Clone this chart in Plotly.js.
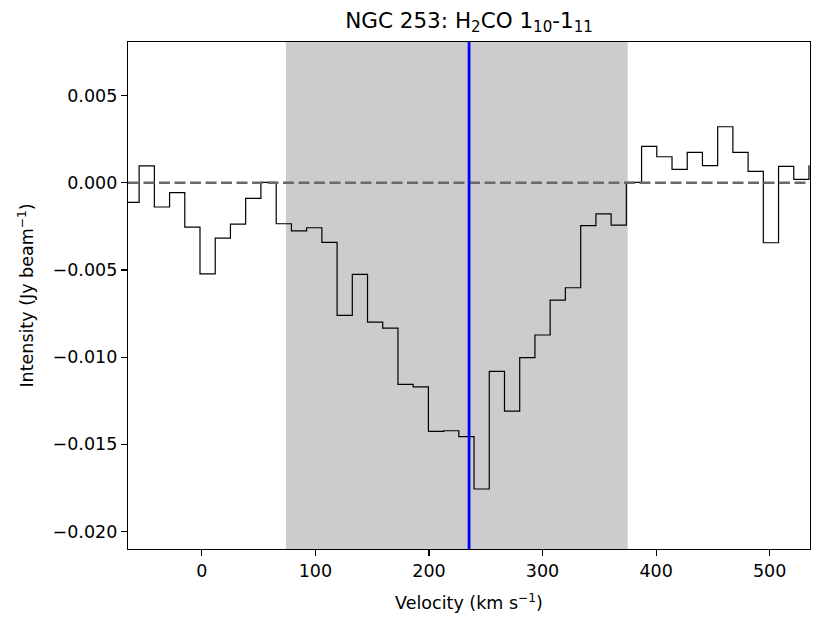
<!DOCTYPE html>
<html>
<head>
<meta charset="utf-8">
<script src="https://cdn.plot.ly/plotly-3.0.1.min.js"></script>
<style>html,body{margin:0;padding:0;background:#fff;}#chart{width:830px;height:628px;}</style>
</head>
<body>
<div id="chart"></div>
<script>
// Channel left edges (km/s)
const velocityEdges = [-68.6, -55.2, -41.8, -28.4, -15.0, -1.6, 11.8, 25.2, 38.6, 52.0,
  65.5, 78.9, 92.3, 105.7, 119.1, 132.5, 145.9, 159.3, 172.7, 186.1,
  199.5, 212.9, 226.3, 239.7, 253.1, 266.5, 279.9, 293.3, 306.7, 320.1,
  333.6, 347.0, 360.4, 373.8, 387.2, 400.6, 414.0, 427.4, 440.8, 454.2,
  467.6, 481.0, 494.4, 507.8, 521.2, 534.6];
// Intensity (Jy/beam)
const intensity = [-0.00112, 0.00097, -0.00139, -0.00057, -0.00254, -0.00522, -0.00317, -0.00237, -0.00090, 0.00002,
  -0.00235, -0.00276, -0.00258, -0.00342, -0.00760, -0.00525, -0.00799, -0.00833, -0.01156, -0.01170,
  -0.01426, -0.01422, -0.01456, -0.01756, -0.01081, -0.01309, -0.01003, -0.00873, -0.00673, -0.00602,
  -0.00246, -0.00179, -0.00243, 0.00002, 0.00208, 0.00149, 0.00077, 0.00174, 0.00098, 0.00321,
  0.00174, 0.00065, -0.00344, 0.00094, 0.00019, 0.00101];
const fitWindow = [74, 375];
const systemicVelocity = 235.3;
const xTicks = [0, 100, 200, 300, 400, 500];
const yTicks = [-0.020, -0.015, -0.010, -0.005, 0.000, 0.005];

const font = {family: 'DejaVu Sans, sans-serif', size: 17.5, color: '#000'};

const trace = {
  x: velocityEdges, y: intensity, type: 'scatter', mode: 'lines',
  line: {shape: 'hv', color: '#000', width: 1.2},
  hoverinfo: 'x+y'
};

const layout = {
  width: 830, height: 628,
  margin: {l: 128, r: 20, t: 42, b: 79},
  paper_bgcolor: '#fff', plot_bgcolor: '#fff',
  font: font,
  showlegend: false,
  title: {
    text: 'NGC 253: H<sub>2</sub>CO 1<sub>10</sub>-1<sub>11</sub>',
    font: {family: 'DejaVu Sans, sans-serif', size: 21.5, color: '#000'},
    x: 0.5, xref: 'paper', xanchor: 'center',
    y: 0.968, yref: 'container', yanchor: 'middle'
  },
  xaxis: {
    range: [-65, 535.5],
    tickvals: xTicks, ticktext: xTicks.map(String),
    ticks: 'outside', ticklen: 6, tickwidth: 1.2, tickcolor: '#000',
    showline: true, linecolor: '#000', linewidth: 1.2, mirror: true,
    showgrid: false, zeroline: false,
    tickfont: font,
    title: {text: 'Velocity (km s<sup>−1</sup>)', font: font, standoff: 16}
  },
  yaxis: {
    range: [-0.0210, 0.00807],
    tickvals: yTicks, tickformat: '.3f',
    ticks: 'outside', ticklen: 6, tickwidth: 1.2, tickcolor: '#000',
    showline: true, linecolor: '#000', linewidth: 1.2, mirror: true,
    showgrid: false, zeroline: false,
    tickfont: font,
    title: {text: 'Intensity (Jy beam<sup>−1</sup>)', font: font, standoff: 14}
  },
  shapes: [
    {type: 'rect', xref: 'x', yref: 'paper', x0: fitWindow[0], x1: fitWindow[1], y0: 0, y1: 1,
     fillcolor: '#cccccc', line: {width: 0}, layer: 'below'},
    {type: 'line', xref: 'paper', yref: 'y', x0: 0, x1: 1, y0: 0, y1: 0,
     line: {color: '#6a6a6a', width: 2.5, dash: '11px,4.5px'}, layer: 'above'},
    {type: 'line', xref: 'x', yref: 'paper', x0: systemicVelocity, x1: systemicVelocity, y0: 0, y1: 1,
     line: {color: '#0000ff', width: 2.8}, layer: 'above'}
  ]
};

Plotly.newPlot('chart', [trace], layout, {displayModeBar: false, staticPlot: true});
</script>
</body>
</html>
